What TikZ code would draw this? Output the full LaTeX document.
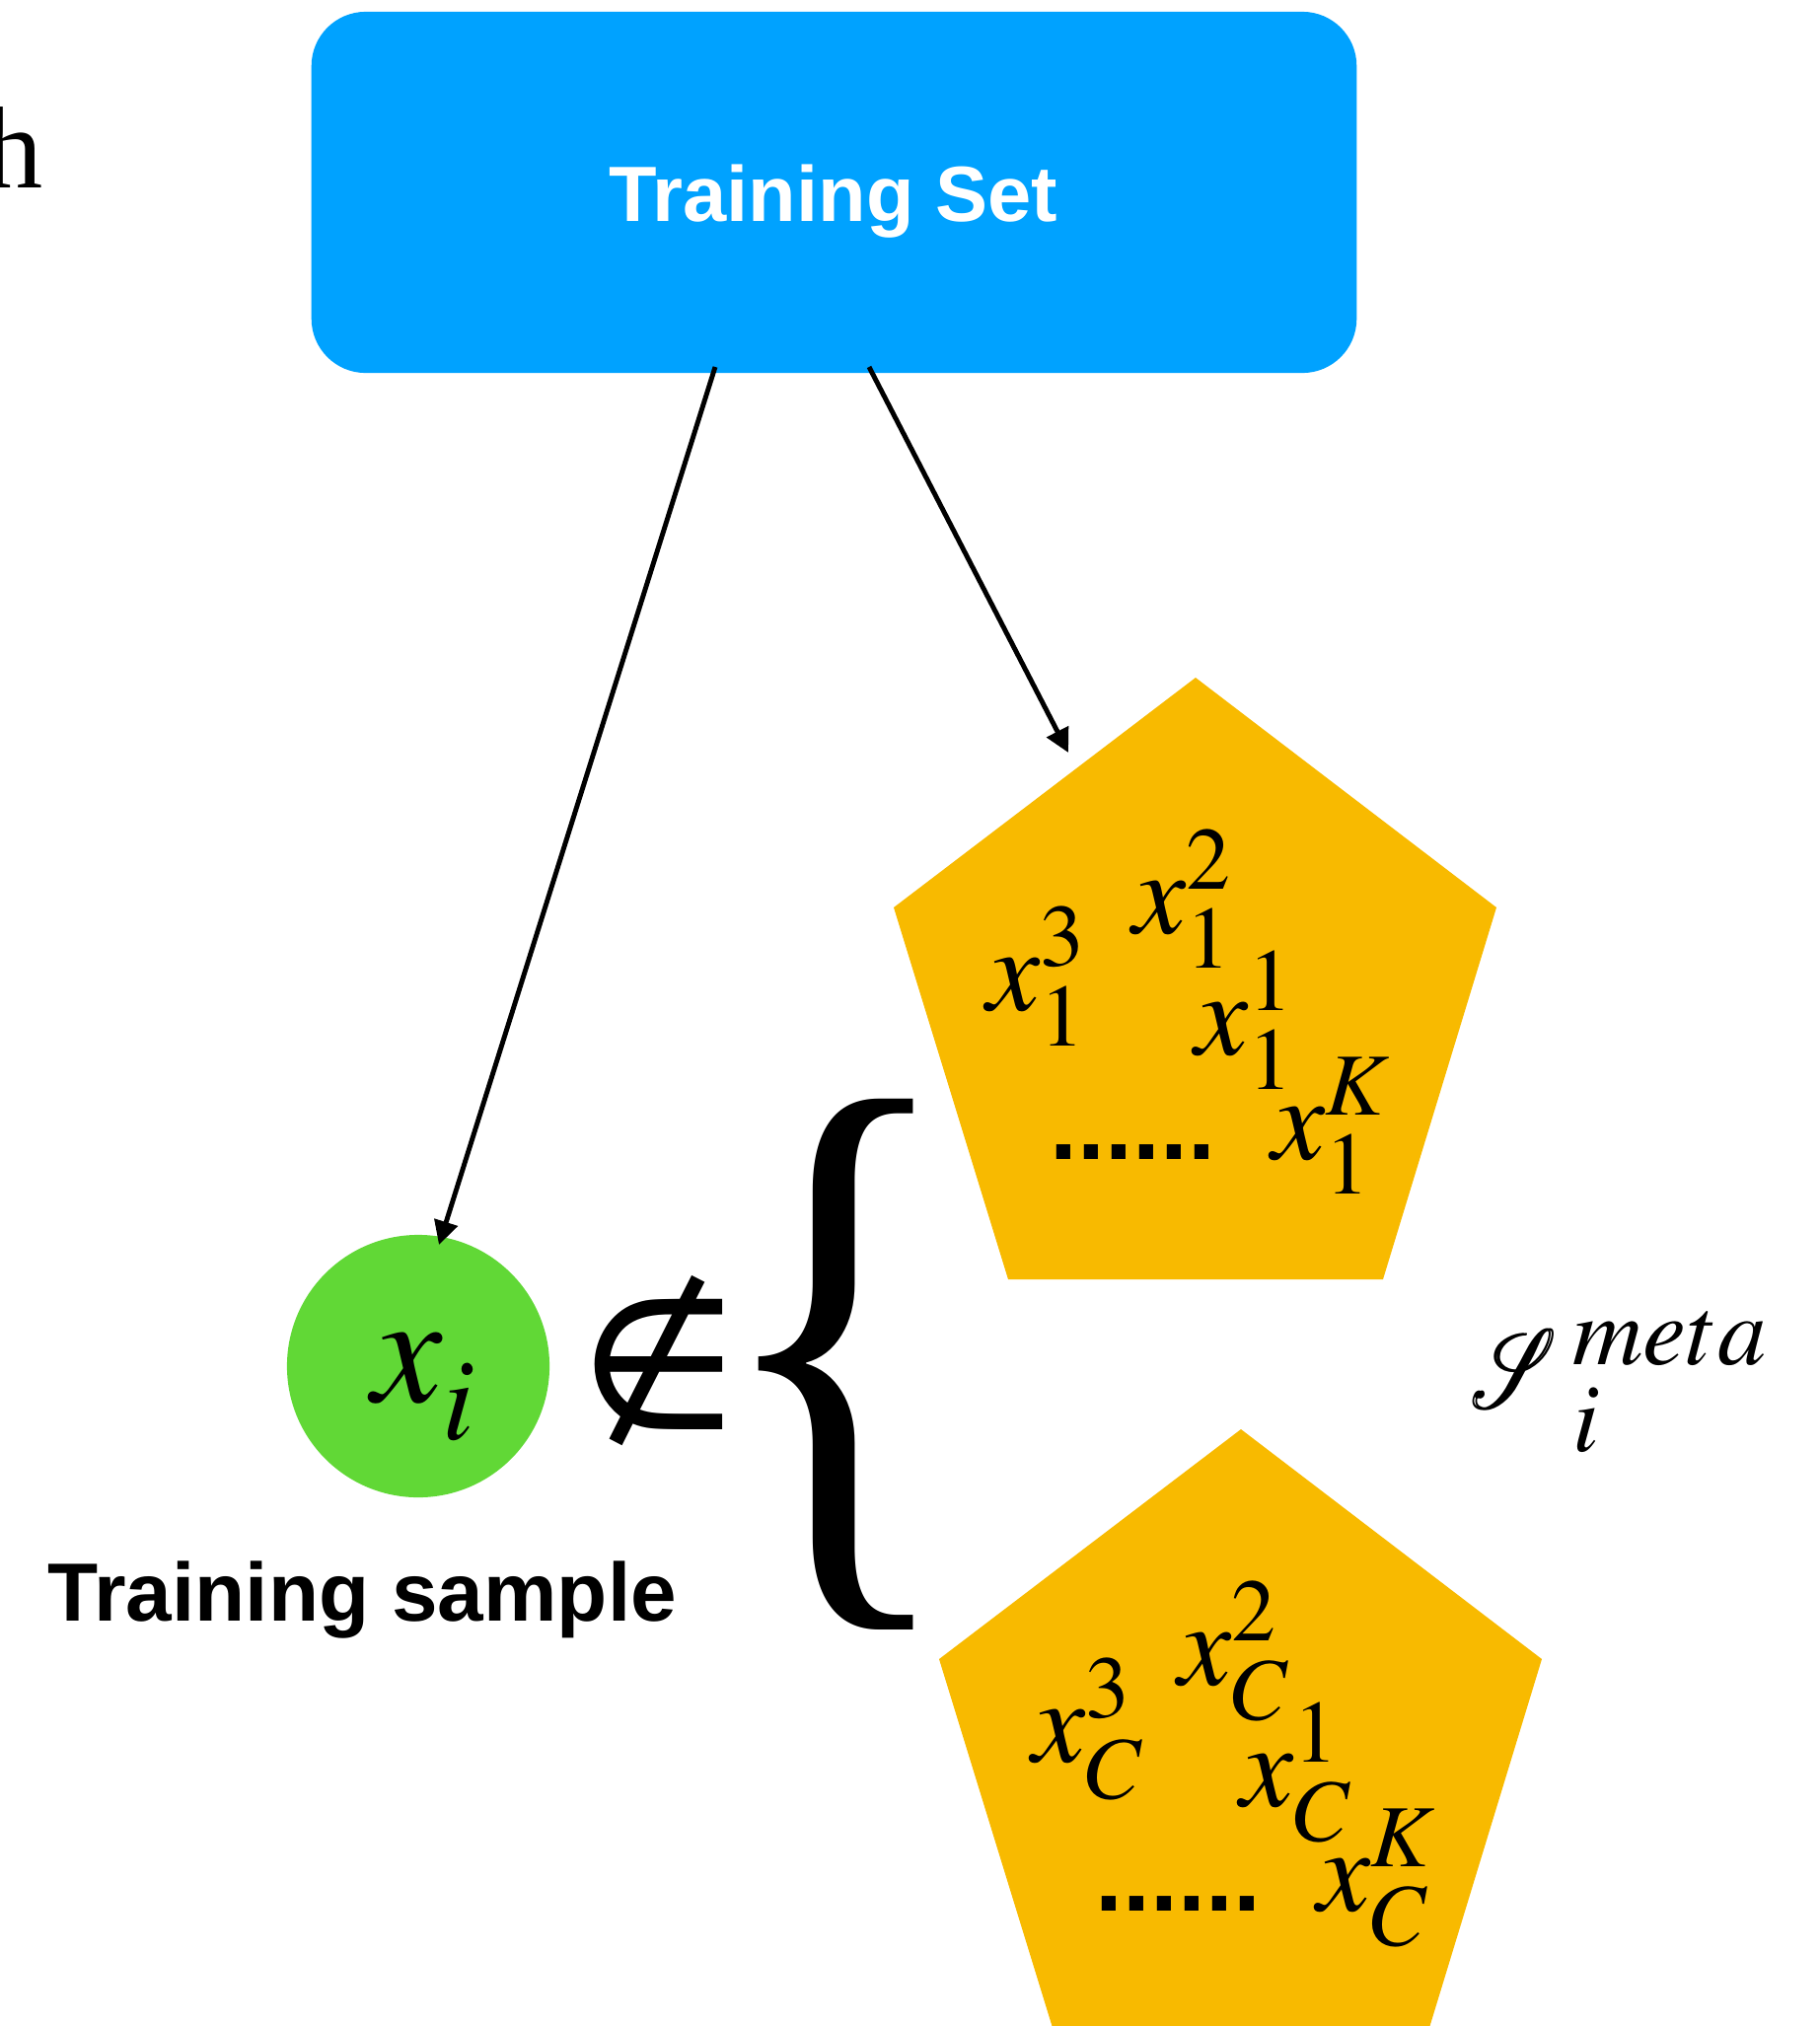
\documentclass[tikz,border=0pt]{standalone}
\usepackage{graphicx}
\usepackage{mathptmx}
\usepackage{mathrsfs}
\usepackage{fontspec}
\setmainfont{Liberation Serif}
\newfontfamily\labelfont{Liberation Sans}
\usetikzlibrary{arrows.meta}

\definecolor{setblue}{HTML}{00A2FF}
\definecolor{samplegreen}{HTML}{61D836}
\definecolor{classgold}{HTML}{F8BA00}

% script S with a slightly heavier stroke
\newcommand{\heavyS}{\rlap{$\mathscr{S}$}\kern0.8pt$\mathscr{S}$}

\tikzset{
  mathlbl/.style={inner sep=0pt, anchor=base west, font={\fontsize{34.5}{40}\selectfont}},
  dotrow/.style={inner sep=0pt, anchor=base west, font={\labelfont\bfseries\fontsize{28.5}{30}\selectfont}},
  link/.style={line width=1.4pt, -{Triangle[length=0.24cm,width=0.24cm]}},
}

\begin{document}
\begin{tikzpicture}[x=0.01cm,y=-0.01cm]
\useasboundingbox (0,0) rectangle (1845,2054);
\clip (0,0) rectangle (1845,2054);

% cut-off letter at the left margin
\node[inner sep=0pt, anchor=base east, font={\fontsize{33.6}{36}\selectfont}] (hletter) at (44.5,190) {h};

% training set
\node[fill=setblue, rounded corners=0.55cm, minimum width=10.59cm, minimum height=3.66cm, inner sep=0pt] (set) at (845.5,195) {};
\node[inner sep=0pt, anchor=base, text=white, font={\labelfont\bfseries\fontsize{22.6}{27}\selectfont}] (settext) at (845,224) {Training Set};

% the two class groups
\foreach \dx/\dy/\c/\id in {0/0/1/a, 46/762/C/b} {
  \begin{scope}[shift={(\dx,\dy)}]
    \fill[classgold] (1212,687) -- (1517,920) -- (1402,1297) -- (1022,1297) -- (906,920) -- cycle;
    \node[mathlbl] (\id-three) at (1000,1024) {$x_{\c}^{3}$};
    \node[mathlbl] (\id-two)   at (1148,946)  {$x_{\c}^{2}$};
    \node[mathlbl] (\id-one)   at (1211,1069) {$x_{\c}^{1}$};
    \node[mathlbl] (\id-K)     at (1289,1175) {$x_{\c}^{K}$};
    \node[dotrow]  (\id-dots)  at (1064,1175) {......};
  \end{scope}
}

% training sample
\node[circle, fill=samplegreen, minimum size=2.66cm, inner sep=0pt] (sample) at (424,1385) {};
\node[inner sep=0pt, anchor=base west, font={\fontsize{45.5}{50}\selectfont}] (sampletext) at (377,1421) {$x_{\raisebox{-4pt}{$\scriptstyle i$}}$};
\node[inner sep=0pt, anchor=base west, font={\labelfont\bfseries\fontsize{23.8}{28}\selectfont}] (samplelabel) at (48,1643) {Training sample};

% not-in sign (Symbol font) and brace
\node[inner sep=0pt, anchor=base west, font={\fontsize{80}{80}\usefont{U}{psy}{m}{n}}] (notin) at (590,1449) {\char207};
\node[inner sep=0pt, font={\fontsize{178}{178}\selectfont}] (brace) at (848,1383) {\scalebox{0.839}[1.039]{\{}};

% meta set label
\node[inner sep=0pt, anchor=base west, font={\fontsize{38}{42}\selectfont}] (meta) at (1490,1427)
  {${\scalebox{0.92}[1.3]{\heavyS}\kern4.5pt}^{\raisebox{-1.4pt}{$\scriptstyle meta$}}_{\raisebox{-3.4pt}{$\scriptstyle i$}}$};

% connectors
\coordinate (from1) at (725,372);
\coordinate (to1) at (445,1262);
\coordinate (from2) at (881,372);
\coordinate (to2) at (1083,763);
\draw[link] (from1) -- (to1);
\draw[link] (from2) -- (to2);
\end{tikzpicture}
\end{document}
